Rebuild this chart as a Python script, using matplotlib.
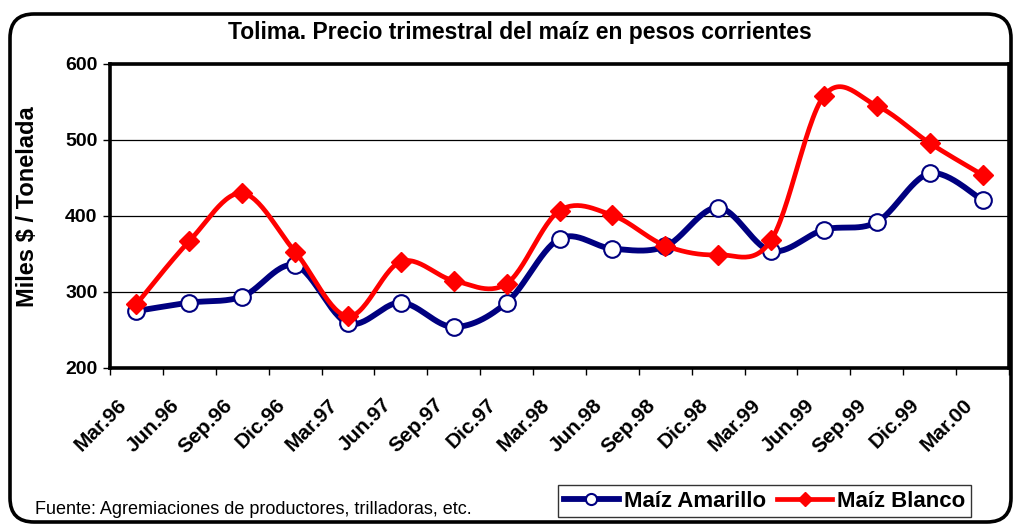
import numpy as np
import matplotlib
matplotlib.use('Agg')
import matplotlib.pyplot as plt
import matplotlib.transforms as mtrans
from matplotlib.patches import FancyBboxPatch
from matplotlib.lines import Line2D

plt.rcParams['font.family'] = ['Liberation Sans', 'DejaVu Sans']

# ---------------------------------------------------------- #
# Data

trimestres = ['Mar.96', 'Jun.96', 'Sep.96', 'Dic.96', 'Mar.97', 'Jun.97',
              'Sep.97', 'Dic.97', 'Mar.98', 'Jun.98', 'Sep.98', 'Dic.98',
              'Mar.99', 'Jun.99', 'Sep.99', 'Dic.99', 'Mar.00']

amarillo = [275, 286, 294, 335, 259, 286, 254, 286, 370, 357, 360, 411,
            354, 382, 392, 456, 421]

blanco = [284, 367, 430, 353, 268, 340, 315, 311, 407, 401, 361, 349,
          368, 558, 545, 496, 454]

# ---------------------------------------------------------- #

def smooth(y, n=30):
    # Excel-like smoothed line (Catmull-Rom through the points)
    y = np.asarray(y, dtype=float)
    x = np.arange(len(y), dtype=float)
    px = np.concatenate([[x[0]], x, [x[-1]]])
    py = np.concatenate([[y[0]], y, [y[-1]]])
    xs, ys = [], []
    t = np.linspace(0, 1, n)
    for i in range(1, len(px) - 2):
        for p, out in ((px, xs), (py, ys)):
            p0, p1, p2, p3 = p[i-1], p[i], p[i+1], p[i+2]
            c1 = p1 + (p2 - p0) / 6
            c2 = p2 - (p3 - p1) / 6
            out.extend((1-t)**3*p1 + 3*(1-t)**2*t*c1 + 3*(1-t)*t**2*c2 + t**3*p2)
    return np.array(xs), np.array(ys)

W, H = 1016, 524
fig = plt.figure(figsize=(W/100, H/100), dpi=100)

# background frame with rounded corners
bg = fig.add_axes([0, 0, 1, 1], zorder=-1)
bg.set_xlim(0, W)
bg.set_ylim(0, H)
bg.axis('off')
bg.add_patch(FancyBboxPatch((10, 2), 1001, 508,
                            boxstyle='round,pad=0,rounding_size=24',
                            fc='white', ec='black', lw=2.6))

ax = fig.add_axes([110/W, 1-368/H, 899/W, 304/H])
x = np.arange(len(trimestres))

xa, ya = smooth(amarillo)
xb, yb = smooth(blanco)
ax.plot(xa, ya, color='#000080', lw=4.2, zorder=3, solid_capstyle='round')
ax.plot(x, amarillo, ls='none', marker='o', ms=12, mfc='white',
        mec='#000080', mew=1.5, zorder=4)
ax.plot(xb, yb, color='#FF0000', lw=3.4, zorder=5, solid_capstyle='round')
ax.plot(x, blanco, ls='none', marker='D', ms=10, mfc='#FF0000',
        mec='#FF0000', zorder=6)

ax.set_xlim(-0.5, len(trimestres) - 0.5)
ax.set_ylim(200, 600)
ax.set_yticks([200, 300, 400, 500, 600])
ax.tick_params(axis='y', labelsize=14, length=5, width=1, direction='out', pad=4)
for lab in ax.get_yticklabels():
    lab.set_fontweight('bold')
ax.yaxis.grid(True, color='black', lw=0.9)
ax.set_axisbelow(True)

ax.set_xticks(x)
ax.set_xticklabels(trimestres, rotation=45, ha='right', va='center',
                   rotation_mode='anchor', fontsize=15, fontweight='bold')
ax.tick_params(axis='x', length=0, pad=0)
shift = mtrans.ScaledTranslation(-13/100, -34/100, fig.dpi_scale_trans)
for lab in ax.get_xticklabels():
    lab.set_transform(lab.get_transform() + shift)
ax.set_xticks(np.arange(-0.5, len(trimestres)), minor=True)
ax.tick_params(axis='x', which='minor', length=5, width=1, direction='out')

for s in ax.spines.values():
    s.set_linewidth(2.6)

fig.text(28/W, 1-207/H, 'Miles $ / Tonelada', rotation=90, ha='center',
         va='center', fontsize=17, fontweight='bold')
fig.text(520/W, 1-32/H, 'Tolima. Precio trimestral del maíz en pesos corrientes',
         ha='center', va='center', fontsize=16.5, fontweight='bold')
fig.text(35/W, 1-509/H, 'Fuente: Agremiaciones de productores, trilladoras, etc.',
         ha='left', va='center', fontsize=13)

handles = [Line2D([], [], color='#000080', lw=4.2, marker='o', ms=8,
                  mfc='white', mec='#000080', mew=1.5),
           Line2D([], [], color='#FF0000', lw=3.4, marker='D', ms=7,
                  mfc='#FF0000', mec='#FF0000')]
leg = fig.legend(handles, ['Maíz Amarillo', 'Maíz Blanco'], ncol=2,
                 loc='upper left', bbox_to_anchor=(558/W, 1-485/H),
                 prop={'weight': 'bold', 'size': 16}, frameon=True,
                 fancybox=False, edgecolor='black', handlelength=2.5,
                 handletextpad=0.2, columnspacing=0.5, borderpad=0.25,
                 borderaxespad=0)
leg.get_frame().set_linewidth(1)

fig.savefig('out.png', dpi=100)
